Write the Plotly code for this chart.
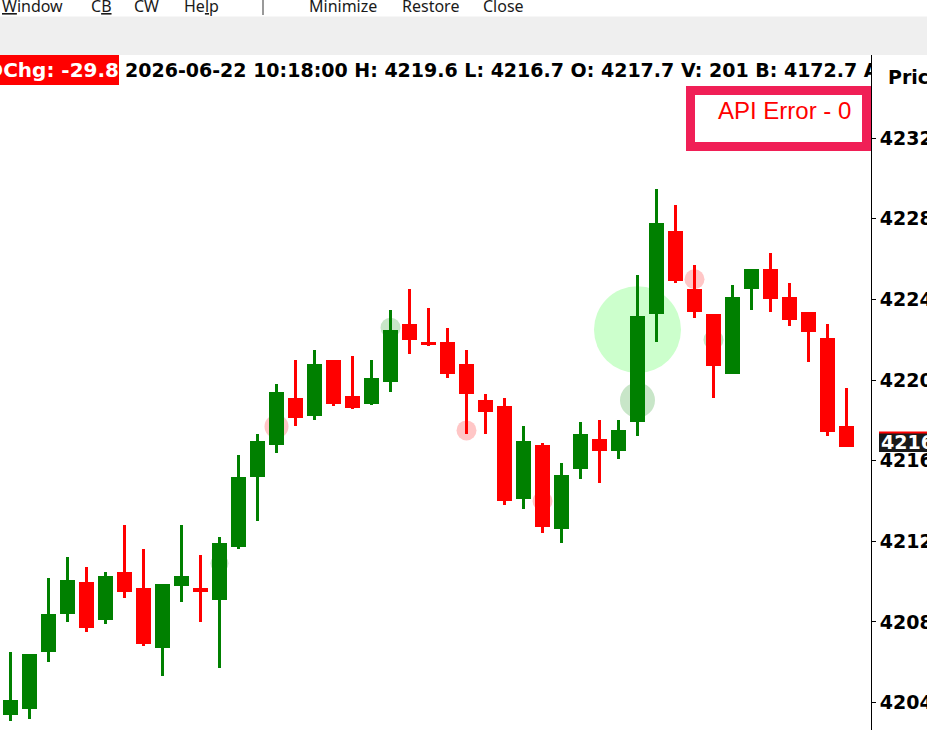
import plotly.graph_objects as go

# candle data, one value per minute bar (oldest first)
opens = [4203.4, 4203.7, 4206.5, 4208.4, 4210.0, 4208.1, 4210.5, 4209.7, 4206.7, 4209.8,
         4209.7, 4209.1, 4211.7, 4215.2, 4216.8, 4219.1, 4218.2, 4221.0, 4219.2, 4218.8,
         4219.9, 4222.8, 4221.9, 4221.9, 4220.8, 4219.0, 4218.7, 4214.1, 4216.8, 4212.6,
         4215.6, 4217.1, 4216.5, 4217.9, 4223.3, 4227.4, 4224.5, 4223.3, 4220.3, 4224.5,
         4225.5, 4224.1, 4223.4, 4222.1, 4217.7]
highs = [4206.5, 4206.4, 4210.2, 4211.2, 4210.7, 4210.5, 4212.8, 4211.6, 4209.9, 4212.8,
         4211.3, 4212.2, 4216.3, 4217.3, 4219.8, 4221.0, 4221.5, 4221.0, 4221.2, 4221.0,
         4223.5, 4224.5, 4223.6, 4222.6, 4221.5, 4219.3, 4219.1, 4217.7, 4216.9, 4215.9,
         4217.9, 4218.0, 4218.0, 4225.2, 4229.5, 4228.7, 4225.7, 4223.3, 4224.7, 4225.5,
         4226.3, 4224.8, 4223.4, 4222.8, 4219.6]
lows = [4203.1, 4203.2, 4206.0, 4208.0, 4207.5, 4207.9, 4209.2, 4206.8, 4205.3, 4209.0,
        4208.0, 4205.7, 4211.6, 4213.0, 4216.4, 4217.7, 4218.0, 4218.7, 4218.55, 4218.75,
        4219.4, 4221.3, 4221.7, 4220.1, 4217.3, 4217.3, 4213.8, 4213.6, 4212.4, 4211.9,
        4215.1, 4214.9, 4216.1, 4217.2, 4221.9, 4224.8, 4223.1, 4219.1, 4220.3, 4223.5,
        4223.4, 4222.7, 4220.9, 4217.2, 4216.7]
closes = [4204.1, 4206.4, 4208.4, 4210.1, 4207.7, 4210.3, 4209.5, 4206.9, 4209.9, 4210.3,
          4209.5, 4211.9, 4215.2, 4217.0, 4219.4, 4218.1, 4220.8, 4218.8, 4218.6, 4220.1,
          4222.5, 4222.0, 4221.75, 4220.3, 4219.3, 4218.4, 4214.0, 4217.0, 4212.7, 4215.3,
          4217.3, 4216.5, 4217.5, 4223.2, 4227.8, 4224.9, 4223.4, 4220.7, 4224.1, 4225.5,
          4224.0, 4223.0, 4222.4, 4217.4, 4216.7]

# signal dots (bar index, price, kind)
sig_bar = [11, 14, 20, 24, 28, 33, 33, 36, 37]
sig_price = [4210.9, 4217.7, 4222.6, 4217.5, 4214.0, 4222.5, 4219.0, 4225.0, 4222.0]
sig_kind = ["buy", "sell", "buy", "sell", "sell", "big", "buy", "sell", "buy"]

price_ticks = [4204, 4208, 4212, 4216, 4220, 4224, 4228, 4232]

header_chg = "DChg: -29.8"
header_info = "2026-06-22 10:18:00 H: 4219.6 L: 4216.7 O: 4217.7 V: 201 B: 4172.7 A: 4173.0"
last_price = "4216.7"
menu_items = ["<u>W</u>indow", "C<u>B</u>", "CW", "He<u>l</u>p", "Minimize", "Restore", "Close"]

# ---- layout geometry (pixels) ----
W, H = 927, 730
PR, PT = 871, 55          # plot area right edge / top edge
X0, X1 = -0.553, 45.29
Y0, Y1 = 4202.635, 4236.13

def px(x):
    return x / PR

def py(y):
    return (H - y) / (H - PT)

def xd(x):
    return X0 + x * (X1 - X0) / PR

def yd(y):
    return Y1 - (y - PT) * (Y1 - Y0) / (H - PT)

n = len(opens)
xs = list(range(n))
up = [c >= o for o, c in zip(opens, closes)]
cols = ["#008000" if u else "#FF0000" for u in up]

kind_col = {"buy": "#C8E6C8", "sell": "#FFC6C6", "big": "#CCFFCC"}
dot_size = [18, 24, 20, 20, 20, 87, 35, 20, 20]   # diameter in px

fig = go.Figure()

# wicks
fig.add_trace(go.Bar(x=xs, y=[h - l for h, l in zip(highs, lows)], base=lows,
                     width=0.16, marker=dict(color=cols, line=dict(width=0)),
                     hoverinfo="skip", showlegend=False))
# bodies
fig.add_trace(go.Bar(x=xs, y=[max(abs(c - o), 0.05) for o, c in zip(opens, closes)],
                     base=[min(o, c) for o, c in zip(opens, closes)],
                     width=0.79, marker=dict(color=cols, line=dict(width=0)),
                     hoverinfo="skip", showlegend=False))

# header line, clipped to the plot area like the original
hdr_font = dict(family="DejaVu Sans", size=19, weight="bold")
fig.add_trace(go.Scatter(x=[xd(119)], y=[yd(72)], mode="text", text=[header_chg],
                         textposition="middle left",
                         textfont=dict(color="white", family="DejaVu Sans", size=20, weight="bold"),
                         hoverinfo="skip", showlegend=False))
fig.add_trace(go.Scatter(x=[xd(125)], y=[yd(72)], mode="text", text=[header_info],
                         textposition="middle right", textfont=dict(color="black", **hdr_font),
                         hoverinfo="skip", showlegend=False))

shapes = [
    dict(type="rect", xref="paper", yref="paper", x0=px(0), x1=px(W), y0=py(55), y1=py(16.5),
         fillcolor="#EFEFEF", line=dict(width=0), layer="below"),
    dict(type="line", xref="paper", yref="paper", x0=px(263), x1=px(263), y0=py(0), y1=py(15),
         line=dict(color="#999999", width=2)),
    dict(type="rect", xref="paper", yref="paper", x0=px(0), x1=px(119), y0=py(85), y1=py(55),
         fillcolor="#FF0000", line=dict(width=0), layer="below"),
    dict(type="rect", xref="paper", yref="paper", x0=px(690.5), x1=px(866.5), y0=py(146.5), y1=py(90.5),
         fillcolor="white", line=dict(color="#F01F56", width=9), layer="above"),
    dict(type="rect", xref="paper", yref="paper", x0=px(879), x1=px(W + 5), y0=py(452), y1=py(432),
         fillcolor="#1A1A1A", line=dict(width=0), layer="above"),
    dict(type="line", xref="paper", yref="paper", x0=px(879), x1=px(W + 5), y0=py(432.5), y1=py(432.5),
         line=dict(color="#FF0000", width=2), layer="above"),
]

# signal dots sit behind the candles, so draw them as pixel-sized circle shapes
for b, p, k, s in zip(sig_bar, sig_price, sig_kind, dot_size):
    r = s / 2
    shapes.append(dict(type="circle", xref="x", yref="y", xsizemode="pixel", ysizemode="pixel",
                       xanchor=b, yanchor=p, x0=-r, x1=r, y0=-r, y1=r,
                       fillcolor=kind_col[k], line=dict(width=0), layer="between"))

menu_x = [0, 89, 132, 182, 307, 400, 481]
annotations = [
    dict(x=px(mx), y=py(6), xref="paper", yref="paper", text=t, showarrow=False,
         xanchor="left", yanchor="middle", font=dict(family="Noto Sans", size=16, color="#1A1A1A"))
    for mx, t in zip(menu_x, menu_items)
]
annotations += [
    dict(x=px(784), y=py(110), xref="paper", yref="paper", text="API Error - 0", showarrow=False,
         xanchor="center", yanchor="middle", font=dict(family="Liberation Sans", size=24, color="#FF0000")),
    dict(x=px(886), y=py(77), xref="paper", yref="paper", text="Price", showarrow=False,
         xanchor="left", yanchor="middle", font=dict(color="black", **hdr_font)),
    dict(x=px(879), y=py(442), xref="paper", yref="paper", text=last_price, showarrow=False,
         xanchor="left", yanchor="middle", font=dict(color="white", **hdr_font)),
]

fig.update_layout(
    width=W, height=H,
    margin=dict(l=0, r=W - PR, t=PT, b=0, pad=0),
    paper_bgcolor="white", plot_bgcolor="white",
    barmode="overlay", bargap=0,
    showlegend=False,
    shapes=shapes, annotations=annotations,
    xaxis=dict(range=[X0, X1], visible=False, fixedrange=True),
    yaxis=dict(range=[Y0, Y1], side="right", tickvals=price_ticks, ticks="outside", ticklen=4,
               tickcolor="black", tickwidth=1, showline=True, linecolor="black", linewidth=1,
               showgrid=False, zeroline=False, automargin=False,
               tickfont=dict(color="black", **hdr_font)),
)

fig.write_html("out.html", config={"displayModeBar": False},
               post_script="document.body.style.margin='0px';")
